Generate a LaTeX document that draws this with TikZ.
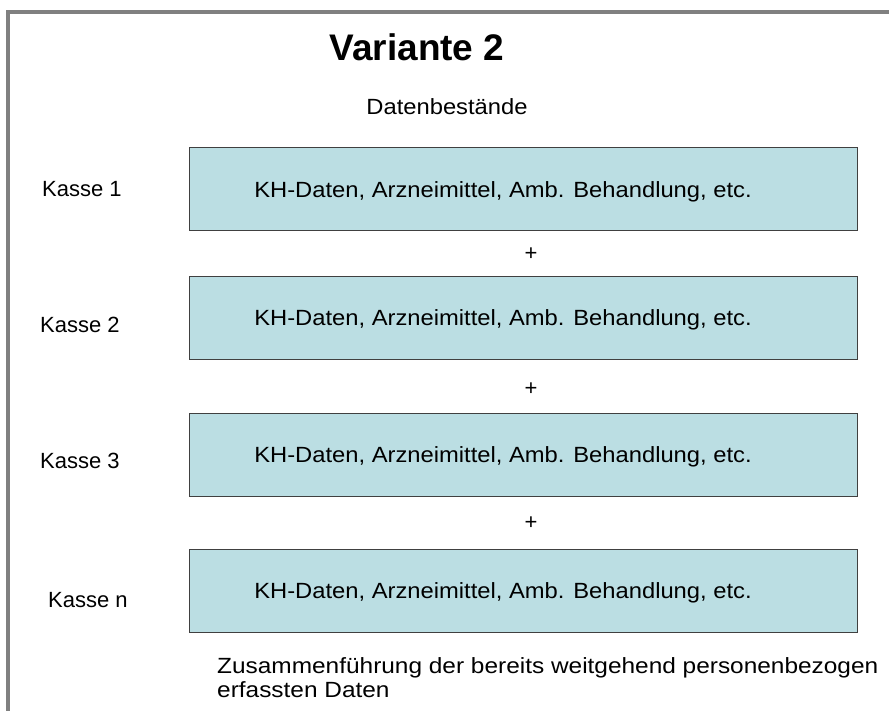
\documentclass[tikz,border=0pt]{standalone}
\usepackage{fontspec}
\setmainfont{Liberation Sans}
\newfontfamily\widefont[FakeStretch=1.08]{Liberation Sans}
\newfontfamily\widerfont[FakeStretch=1.11]{Liberation Sans}
\definecolor{boxfill}{RGB}{187,222,227}
\definecolor{framegray}{RGB}{128,128,128}
\begin{document}
\begin{tikzpicture}[x=1pt,y=-1pt,
  databox/.style={draw=black!75,line width=1pt,fill=boxfill,inner sep=0pt},
  txt/.style={inner sep=0pt,font=\fontsize{22}{24}\selectfont},
  boxtxt/.style={inner sep=0pt,anchor=base,font=\widefont\fontsize{22}{24}\selectfont},
  lbl/.style={txt,anchor=base west},
  plus/.style={txt,anchor=center}]
\useasboundingbox (0,0) rectangle (889,711);
\draw[framegray,line width=4pt] (8,711) -- (8,12) -- (889,12);
\node[inner sep=0pt,font=\fontsize{37}{40}\bfseries] (title) at (417,47) {Variante 2};
\node[boxtxt] (db) at (447,115) {Datenbestände};
\foreach \i/\t/\b/\lab/\lx/\ly in {1/148/231/Kasse 1/42/197, 2/277/359/Kasse 2/40/333, 3/413/496/Kasse 3/40/468, 4/549/632/Kasse n/48/607}{
  \path[databox] (189,\t) rectangle (857,\b);
  \node[boxtxt] (b\i) at (503,{(\t+\b)/2+8}) {KH-Daten, Arzneimittel, Amb. Behandlung, etc.};
  \node[lbl] (k\i) at (\lx,\ly) {\lab};
}
\node[plus] (p1) at (531,254) {+};
\node[plus] (p2) at (531,389) {+};
\node[plus] (p3) at (531,523) {+};
\node[inner sep=0pt,anchor=north west,align=left,font=\widerfont\fontsize{22}{24}\selectfont] (zus) at (217,657) {Zusammenführung der bereits weitgehend personenbezogen\\erfassten Daten};
\end{tikzpicture}
\end{document}
